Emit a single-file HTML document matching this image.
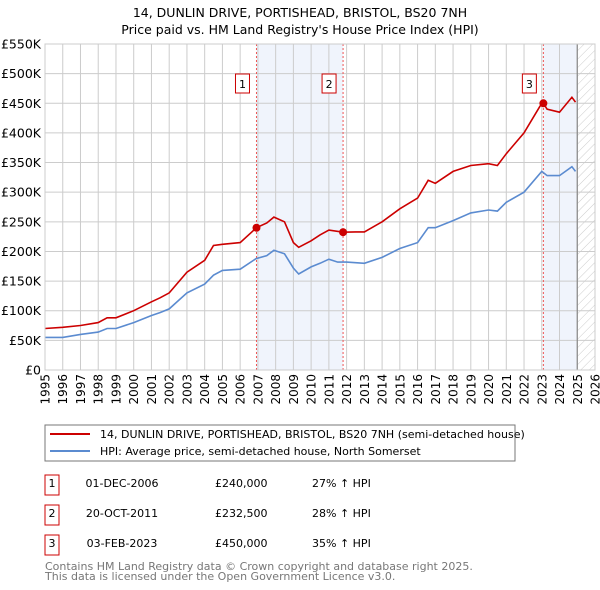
<!DOCTYPE html>
<html><head><meta charset="utf-8"><style>
body{margin:0;background:#fff;font-family:"DejaVu Sans","Liberation Sans",sans-serif}
svg{display:block}
</style></head><body>
<svg id="chart" width="600" height="590" font-family="DejaVu Sans, Liberation Sans, sans-serif">
<text x="300" y="17" text-anchor="middle" font-size="12.5">14, DUNLIN DRIVE, PORTISHEAD, BRISTOL, BS20 7NH</text>
<text x="300" y="34" text-anchor="middle" font-size="12.5">Price paid vs. HM Land Registry's House Price Index (HPI)</text>
<defs><pattern id="hatch" width="6" height="6" patternUnits="userSpaceOnUse" patternTransform="rotate(45)"><line x1="0" y1="0" x2="0" y2="6" stroke="#ccc" stroke-width="1"/></pattern></defs>
<g id="plot"></g>
<rect x="45" y="425" width="470" height="36" fill="#fff" stroke="#777"/>
<line x1="50" y1="434" x2="90" y2="434" stroke="#cc0000" stroke-width="2"/>
<text x="100" y="438" font-size="11">14, DUNLIN DRIVE, PORTISHEAD, BRISTOL, BS20 7NH (semi-detached house)</text>
<line x1="50" y1="451" x2="90" y2="451" stroke="#5b8bd0" stroke-width="2"/>
<text x="100" y="455" font-size="11">HPI: Average price, semi-detached house, North Somerset</text>
<g font-size="11">
<rect x="45" y="475" width="14" height="20" fill="none" stroke="#cc0000"/><text x="52" y="487" text-anchor="middle">1</text>
<text x="122" y="487" text-anchor="middle">01-DEC-2006</text><text x="215" y="487">£240,000</text><text x="312" y="487">27% ↑ HPI</text>
<rect x="45" y="505" width="14" height="20" fill="none" stroke="#cc0000"/><text x="52" y="517" text-anchor="middle">2</text>
<text x="122" y="517" text-anchor="middle">20-OCT-2011</text><text x="215" y="517">£232,500</text><text x="312" y="517">28% ↑ HPI</text>
<rect x="45" y="535" width="14" height="20" fill="none" stroke="#cc0000"/><text x="52" y="547" text-anchor="middle">3</text>
<text x="122" y="547" text-anchor="middle">03-FEB-2023</text><text x="215" y="547">£450,000</text><text x="312" y="547">35% ↑ HPI</text>
</g>
<text x="45" y="570" font-size="11" fill="#777">Contains HM Land Registry data © Crown copyright and database right 2025.</text>
<text x="45" y="580" font-size="11" fill="#777">This data is licensed under the Open Government Licence v3.0.</text>
</svg>
<script>
const hpiYears=[1995,1996,1997,1998,1998.5,1999,2000,2001,2001.5,2002,2003,2004,2004.5,2005,2006,2006.9,2007.5,2007.9,2008.5,2009,2009.3,2010,2010.5,2011,2011.5,2012,2013,2014,2015,2016,2016.6,2017,2018,2019,2020,2020.5,2021,2022,2023,2023.3,2024,2024.7,2024.9];
const hpiValues=[55,55,60,64,70,70,80,92,97,103,130,145,160,168,170,188,193,202,196,172,162,174,180,187,182,182,180,190,205,215,240,240,252,265,270,268,283,300,335,328,328,343,335];
const propYears=[1995,1996,1997,1998,1998.5,1999,2000,2001,2001.5,2002,2003,2004,2004.5,2005,2006,2006.92,2007.5,2007.9,2008.5,2009,2009.3,2010,2010.5,2011,2011.8,2012.5,2013,2014,2015,2016,2016.6,2017,2018,2019,2020,2020.5,2021,2022,2022.9,2023.09,2023.3,2024,2024.7,2024.9];
const propValues=[70,72,75,80,88,88,100,115,122,130,165,185,210,212,215,240,248,258,250,215,207,218,228,236,232.5,233,233,250,272,290,320,315,335,345,348,345,365,400,445,450,440,435,460,452];
const saleYears=[2006.92,2011.8,2023.09];
const saleValues=[240,232.5,450];
const saleLabels=["1","2","3"];
const yTicks=[0,50,100,150,200,250,300,350,400,450,500,550];
const xTicks=[1995,1996,1997,1998,1999,2000,2001,2002,2003,2004,2005,2006,2007,2008,2009,2010,2011,2012,2013,2014,2015,2016,2017,2018,2019,2020,2021,2022,2023,2024,2025,2026];
const X0=45,X1=595,Y0=370,Y1=44;
const xs=y=>X0+(y-1995)/(2026-1995)*(X1-X0);
const ys=v=>Y0-v/550*(Y0-Y1);
const NS='http://www.w3.org/2000/svg';
const g=document.getElementById('plot');
function mk(t,a){const e=document.createElementNS(NS,t);for(const k in a)e.setAttribute(k,a[k]);g.appendChild(e);return e;}
let r=mk('rect',{x:xs(saleYears[0]),y:Y1,width:xs(saleYears[1])-xs(saleYears[0]),height:Y0-Y1,fill:'#f0f4fc'});


r=mk('rect',{x:xs(saleYears[2]),y:Y1,width:xs(2025)-xs(saleYears[2]),height:Y0-Y1,fill:'#f0f4fc'});


r=mk('rect',{x:xs(2025),y:Y1,width:X1-xs(2025),height:Y0-Y1,fill:'url(#hatch)'});


yTicks.forEach(v=>{
 const l=mk('line',{x1:X0,x2:X1,y1:ys(v),y2:ys(v),stroke:'#ccc'});
 
 
 const t=mk('text',{x:X0-4,y:ys(v)+4.5,'text-anchor':'end','font-size':'12.5'});
 
 
 t.textContent=v===0?'£0':'£'+v+'K';
});
xTicks.forEach(y=>{
 const l=mk('line',{x1:xs(y),x2:xs(y),y1:Y1,y2:Y0,stroke:'#ccc'});
 
 
 const t=mk('text',{x:0,y:0,'font-size':'12','text-anchor':'end',transform:`translate(${xs(y)+4.5},${Y0+4}) rotate(-90)`});
 
 
 t.textContent=y;
});
let d=mk('line',{x1:xs(2025),x2:xs(2025),y1:Y1,y2:Y0,stroke:'#888','stroke-width':1.2});


saleYears.forEach((y,i)=>{
 const l=mk('line',{x1:xs(y),x2:xs(y),y1:Y1,y2:Y0,stroke:'#e55','stroke-dasharray':'2,2'});
 
 
});
function path(xa,va,col,name){
 const p=mk('path',{d:xa.map((x,i)=>(i?'L':'M')+xs(x).toFixed(1)+','+ys(va[i]).toFixed(1)).join(''),fill:'none',stroke:col,'stroke-width':1.6});
 
 
}
path(hpiYears,hpiValues,'#5b8bd0','hpi-line');
path(propYears,propValues,'#cc0000','property-price-line');
saleYears.forEach((y,i)=>{
 const c=mk('circle',{cx:xs(y),cy:ys(saleValues[i]),r:4,fill:'#cc0000'});
 
 
 const b=mk('rect',{x:xs(y)-21,y:74,width:14,height:19,fill:'#fff',stroke:'#cc0000'});
 
 
 const t=mk('text',{x:xs(y)-14,y:88,'text-anchor':'middle','font-size':'11'});
 
 
 t.textContent=saleLabels[i];
});
const f=mk('rect',{x:X0,y:Y1,width:X1-X0,height:Y0-Y1,fill:'none',stroke:'#ccc'});


</script>
</body></html>
